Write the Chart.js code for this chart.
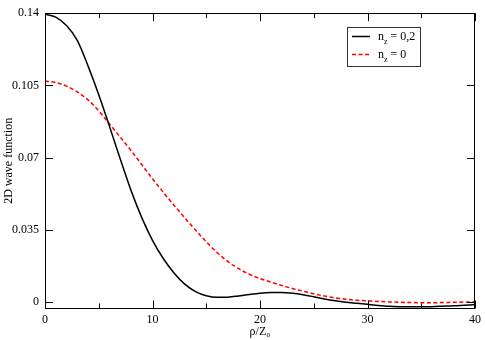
<!DOCTYPE html>
<html>
<head>
<meta charset="utf-8">
<script src="https://cdn.jsdelivr.net/npm/chart.js@4/dist/chart.umd.min.js"></script>
<style>
  html, body { margin: 0; padding: 0; background: #fff; }
  #wrap { width: 485px; height: 340px; position: relative; }
</style>
</head>
<body>
<div id="wrap"><canvas id="grafica"></canvas></div>
<script>
"use strict";

// datos
const rho = [0, 1, 2, 3, 4, 5, 6, 7, 8, 9, 10, 11, 12, 13, 14, 15, 16, 17, 18, 19, 20,
             21, 22, 23, 24, 25, 26, 27, 28, 29, 30, 31, 32, 33, 34, 35, 36, 37, 38, 39, 40];
const ondaNz02 = [0.1395, 0.1381, 0.1340, 0.1268, 0.1145, 0.1005, 0.0852, 0.0694, 0.0542, 0.0410,
                  0.0300, 0.0212, 0.0142, 0.0088, 0.0052, 0.0032, 0.0024, 0.0025, 0.0031, 0.0038,
                  0.0044, 0.0047, 0.0047, 0.0044, 0.0037, 0.0027, 0.0016, 0.0007, 0.0000, -0.0005,
                  -0.0010, -0.0015, -0.0019, -0.0021, -0.0022, -0.0022, -0.0021, -0.0019, -0.0017, -0.0014, -0.0011];
const ondaNz0 = [0.1072, 0.1064, 0.1047, 0.1019, 0.0980, 0.0927, 0.0864, 0.0800, 0.0735, 0.0667,
                 0.0598, 0.0533, 0.0470, 0.0409, 0.0350, 0.0293, 0.0241, 0.0198, 0.0163, 0.0136,
                 0.0115, 0.0098, 0.0082, 0.0067, 0.0054, 0.0041, 0.0030, 0.0021, 0.0015, 0.0010,
                 0.0007, 0.0004, 0.0002, 0.0000, -0.0001, -0.0002, -0.0002, -0.0001, 0.0000, 0.0001, 0.0002];
const ticksX = [0, 10, 20, 30, 40];
const ticksXMenor = [5, 15, 25, 35];
const ticksY = [0, 0.035, 0.07, 0.105, 0.14];
const etiquetasLeyenda = [["n", "z", " = 0,2"], ["n", "z", " = 0"]];

const fuente = "'Liberation Serif', 'DejaVu Serif', serif";
const colorNegro = "#000000";
const colorRojo = "#ff0000";

const toPts = ys => rho.map((x, i) => ({ x: x, y: ys[i] }));

// marco, ticks hacia dentro y leyenda con subindices
const marcoPlugin = {
    id: "marco",
    afterDraw(chart) {
        const ctx = chart.ctx;
        const a = chart.chartArea;
        const sx = chart.scales.x, sy = chart.scales.y;
        ctx.save();
        ctx.strokeStyle = "#000";
        ctx.lineWidth = 1;
        ctx.strokeRect(Math.round(a.left) + 0.5, Math.round(a.top) + 0.5,
                       Math.round(a.right - a.left) - 1, Math.round(a.bottom - a.top));

        const tickX = (v, len) => {
            const px = Math.round(sx.getPixelForValue(v)) + 0.5;
            ctx.beginPath();
            ctx.moveTo(px, a.bottom); ctx.lineTo(px, a.bottom - len);
            ctx.moveTo(px, a.top); ctx.lineTo(px, a.top + len);
            ctx.stroke();
        };
        const tickY = (v, len) => {
            const py = Math.round(sy.getPixelForValue(v)) + 0.5;
            ctx.beginPath();
            ctx.moveTo(a.left, py); ctx.lineTo(a.left + len, py);
            ctx.moveTo(a.right, py); ctx.lineTo(a.right - len, py);
            ctx.stroke();
        };
        ticksX.forEach(v => tickX(v, 8));
        ticksXMenor.forEach(v => tickX(v, 5));
        ticksY.forEach(v => tickY(v, 8));

        // leyenda
        const bx = 347.5, by = 27.5, bw = 73, bh = 39;
        ctx.fillStyle = "#fff";
        ctx.fillRect(bx, by, bw, bh);
        ctx.strokeStyle = "#333";
        ctx.strokeRect(bx, by, bw, bh);
        const filas = [
            { y: 36.5, color: colorNegro, dash: [] , base: 39.5},
            { y: 54.5, color: colorRojo, dash: [4, 2.5], base: 57.5 }
        ];
        filas.forEach((f, i) => {
            ctx.beginPath();
            ctx.setLineDash(f.dash);
            ctx.strokeStyle = f.color;
            ctx.lineWidth = 1.5;
            ctx.moveTo(352, f.y); ctx.lineTo(370, f.y);
            ctx.stroke();
            ctx.setLineDash([]);
            const [n, sub, resto] = etiquetasLeyenda[i];
            ctx.fillStyle = "#000";
            ctx.textBaseline = "alphabetic";
            ctx.font = "12px " + fuente;
            let x = 378;
            ctx.fillText(n, x, f.base);
            x += ctx.measureText(n).width;
            ctx.font = "8px " + fuente;
            ctx.fillText(sub, x, f.base + 4);
            x += ctx.measureText(sub).width;
            ctx.font = "12px " + fuente;
            ctx.fillText(resto, x, f.base);
        });
        ctx.restore();
    }
};

new Chart(document.getElementById("grafica"), {
    type: "line",
    data: {
        datasets: [
            {
                label: "n_z = 0,2",
                data: toPts(ondaNz02),
                borderColor: colorNegro,
                borderWidth: 1.5,
                pointRadius: 0,
                cubicInterpolationMode: "monotone",
                fill: false
            },
            {
                label: "n_z = 0",
                data: toPts(ondaNz0),
                borderColor: colorRojo,
                borderWidth: 1.5,
                borderDash: [4, 2.5],
                pointRadius: 0,
                cubicInterpolationMode: "monotone",
                fill: false
            }
        ]
    },
    options: {
        responsive: true,
        maintainAspectRatio: false,
        animation: false,
        layout: { padding: { top: 7, right: 8, left: 0, bottom: 0 } },
        plugins: {
            legend: { display: false },
            tooltip: { enabled: false }
        },
        scales: {
            x: {
                type: "linear",
                min: 0,
                max: 40,
                grid: { display: false, drawTicks: false },
                border: { display: false },
                afterBuildTicks: s => { s.ticks = ticksX.map(v => ({ value: v })); },
                afterFit: s => { s.height = 31.5; },
                ticks: {
                    color: "#000",
                    padding: 4,
                    maxRotation: 0,
                    font: { family: fuente, size: 12 },
                    callback: v => String(v)
                },
                title: {
                    display: true,
                    text: "ρ/Z₀",
                    color: "#000",
                    padding: { top: 0, bottom: 1 },
                    font: { family: fuente, size: 12 }
                }
            },
            y: {
                type: "linear",
                min: -0.003,
                max: 0.14,
                grid: { display: false, drawTicks: false },
                border: { display: false },
                afterBuildTicks: s => { s.ticks = ticksY.map(v => ({ value: v })); },
                afterFit: s => { s.width = 45; },
                ticks: {
                    color: "#000",
                    padding: 6,
                    font: { family: fuente, size: 12 },
                    callback: v => String(Math.round(v * 1000) / 1000)
                },
                title: {
                    display: true,
                    text: "2D wave function",
                    color: "#000",
                    padding: { top: 2, bottom: 0 },
                    font: { family: fuente, size: 12 }
                }
            }
        }
    },
    plugins: [marcoPlugin]
});
</script>
</body>
</html>
